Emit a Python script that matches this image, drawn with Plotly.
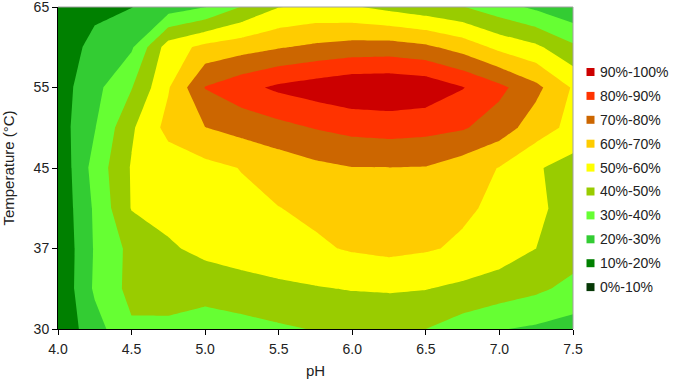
import plotly.graph_objects as go

# pH grid (x) and temperature row positions (y index: 0=30, 1=37, 2=45, 3=55, 4=65 °C)
ph = [4.0, 4.25, 4.5, 4.75, 5.0, 5.25, 5.5, 5.75, 6.0, 6.25, 6.5, 6.75, 7.0, 7.25, 7.5]
row_pos = [0, 0.5, 1, 1.5, 2, 2.5, 3, 3.5, 4]
temp_tick_pos = [0, 1, 2, 3, 4]
temp_tick_labels = ["30", "37", "45", "55", "65"]
ph_ticks = [4.0, 4.5, 5.0, 5.5, 6.0, 6.5, 7.0, 7.5]

# relative activity (%), one list per temperature row (bottom to top)
act_30 = [12, 26.1, 38.5, 37.8, 33, 36.2, 38.6, 40.5, 42, 42, 40, 35, 30.5, 28.5, 26]
act_33 = [11, 31.5, 43, 44.5, 45.5, 46.5, 48, 49.3, 50.5, 51, 50.3, 48, 45.5, 42, 37]
act_37 = [11, 30.9, 42.8, 49, 51.9, 54.1, 56.3, 58.5, 61, 62.5, 61, 58.5, 54.8, 50, 45]
act_41 = [12, 31.5, 50.5, 52.5, 55, 57.4, 59.8, 62, 64.5, 65.5, 64.5, 61.5, 58, 51.5, 47]
act_45 = [12, 33.8, 50.8, 53.9, 57.1, 60.4, 64, 67.5, 69.7, 69.8, 69.5, 65, 59.6, 51, 46]
act_50 = [15, 29.5, 48.6, 63.2, 69.8, 73.4, 76.9, 80.5, 83, 84, 83, 81, 75, 65, 57]
act_55 = [15, 27.1, 39.5, 59.2, 80.4, 86.8, 92, 95, 98, 98.5, 97, 90.5, 82.5, 72.6, 59]
act_60 = [14, 23, 28.7, 55, 62.8, 66, 69.3, 72, 74, 74.5, 72, 66, 57.5, 52, 42]
act_65 = [13, 17.5, 19.8, 24.8, 29.7, 40.5, 49.7, 52, 51, 47.3, 43.8, 40.4, 34, 28, 22]

band_labels = ["0%-10%", "10%-20%", "20%-30%", "30%-40%", "40%-50%",
               "50%-60%", "60%-70%", "70%-80%", "80%-90%", "90%-100%"]
band_colors = ["#063806", "#008000", "#33CC33", "#66FF33", "#99CC00",
               "#FFFF00", "#FFCC00", "#CC6600", "#FF3300", "#CC0000"]

z = [act_30, act_33, act_37, act_41, act_45, act_50, act_55, act_60, act_65]
n = len(band_colors)
colorscale = [[i / (n - 1), c] for i, c in enumerate(band_colors)]

fig = go.Figure()
fig.add_trace(go.Contour(
    x=ph, y=row_pos, z=z,
    colorscale=colorscale,
    zmin=0, zmax=100,
    autocontour=False,
    contours=dict(start=10, end=90, size=10, coloring="fill", showlines=False),
    line=dict(width=0, smoothing=0),
    showscale=False,
    hoverinfo="skip",
    showlegend=False,
))

# plot area geometry (px) used to place the legend next to it
W, H = 678, 388
ml, mr, mt, mb = 58, 105, 7, 59
pw, ph_px = W - ml - mr, H - mt - mb

def px_to_paper_x(px):
    return (px - ml) / pw

def px_to_paper_y(py):
    return (H - mb - py) / ph_px

shapes = [
    dict(type="line", xref="paper", yref="paper", x0=0, x1=1, y0=1, y1=1,
         line=dict(color="#A0A0A0", width=1)),
    dict(type="line", xref="paper", yref="paper", x0=1, x1=1, y0=0, y1=1,
         line=dict(color="#A0A0A0", width=1)),
]
annotations = []
font_family = "Liberation Sans, Arial, sans-serif"
leg_top, leg_step = 72, 23.9
for i, (lab, col) in enumerate(reversed(list(zip(band_labels, band_colors)))):
    cy = leg_top + i * leg_step
    shapes.append(dict(type="rect", xref="paper", yref="paper",
                       x0=px_to_paper_x(586.5), x1=px_to_paper_x(594.5),
                       y0=px_to_paper_y(cy + 4), y1=px_to_paper_y(cy - 4),
                       fillcolor=col, line=dict(width=0)))
    annotations.append(dict(xref="paper", yref="paper",
                            x=px_to_paper_x(598), y=px_to_paper_y(cy),
                            xanchor="left", yanchor="middle", showarrow=False,
                            text=lab, font=dict(size=14, color="#222222", family=font_family)))

fig.update_layout(
    width=W, height=H,
    margin=dict(l=ml, r=mr, t=mt, b=mb, autoexpand=False),
    paper_bgcolor="white", plot_bgcolor="white",
    font=dict(family=font_family, size=14, color="#222222"),
    showlegend=False,
    xaxis=dict(
        title=dict(text="pH", font=dict(size=15), standoff=9),
        range=[4.0, 7.5], tickmode="array",
        tickvals=ph_ticks, ticktext=[f"{v:.1f}" for v in ph_ticks],
        ticks="outside", ticklen=5, tickcolor="black",
        showline=True, linecolor="black", linewidth=1,
        showgrid=False, zeroline=False, automargin=False,
        tickfont=dict(size=14), ticklabelstandoff=2,
    ),
    yaxis=dict(
        title=dict(text="Temperature (°C)", font=dict(size=15), standoff=15),
        range=[0, 4], tickmode="array",
        tickvals=temp_tick_pos, ticktext=temp_tick_labels,
        ticks="outside", ticklen=5, tickcolor="black",
        showline=True, linecolor="black", linewidth=1,
        showgrid=False, zeroline=False, automargin=False,
        tickfont=dict(size=14), ticklabeloverflow="allow",
    ),
    shapes=shapes,
    annotations=annotations,
)

fig.write_html("out.html", config={"displayModeBar": False},
               post_script="document.body.style.margin='0';")
